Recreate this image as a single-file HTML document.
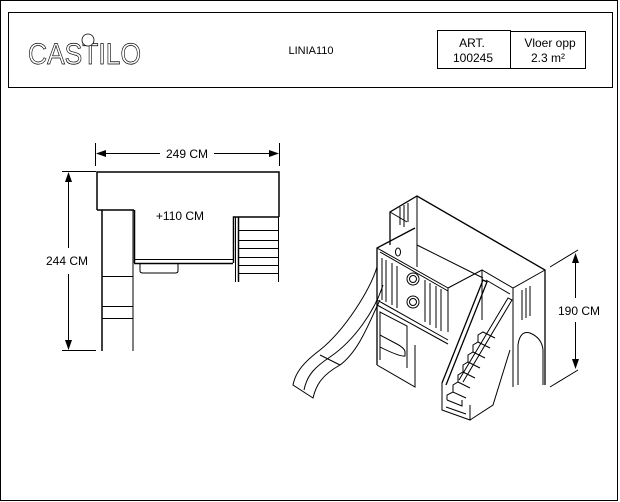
<!DOCTYPE html>
<html><head><style>
html,body{margin:0;padding:0;background:#fff;}
svg{display:block;}
text{font-family:"Liberation Sans",Arial,sans-serif;fill:#000;}
</style></head><body>
<svg width="620" height="502" viewBox="0 0 620 502" xmlns="http://www.w3.org/2000/svg">
<rect x="0.5" y="0.5" width="617" height="500" fill="#fff" stroke="#000" stroke-width="1"/>
<rect x="8.5" y="12.5" width="604" height="75" fill="none" stroke="#000"/>
<rect x="437.5" y="30.5" width="73" height="38" fill="none" stroke="#000"/>
<rect x="510.5" y="31.5" width="75" height="37" fill="none" stroke="#000"/>
<text x="472" y="47" font-size="12" text-anchor="middle">ART.</text>
<text x="473" y="62" font-size="12" text-anchor="middle">100245</text>
<text x="550" y="47" font-size="12" text-anchor="middle">Vloer opp</text>
<text x="548" y="62" font-size="12" text-anchor="middle">2.3 m²</text>
<text x="311" y="54" font-size="11" text-anchor="middle">LINIA110</text>
<text x="28" y="64" font-size="30" stroke="#000" stroke-width="0.7" textLength="113" lengthAdjust="spacingAndGlyphs" style="fill:#fff">CASTILO</text>
<circle cx="88" cy="40" r="6" fill="#fff" stroke="#000" stroke-width="0.8"/>
<g fill="none" stroke="#000" stroke-width="1">
<line x1="95.5" y1="143" x2="95.5" y2="166"/><line x1="279.5" y1="143" x2="279.5" y2="166"/>
<line x1="97" y1="153.5" x2="160" y2="153.5"/><line x1="214" y1="153.5" x2="277" y2="153.5"/>
<line x1="62" y1="171.5" x2="96" y2="171.5"/><line x1="62" y1="350.5" x2="96" y2="350.5"/>
<line x1="68.5" y1="173" x2="68.5" y2="248"/><line x1="68.5" y1="274" x2="68.5" y2="349"/>
</g>
<g fill="#000">
<polygon points="96,153.5 106,150 106,157"/><polygon points="279,153.5 269,150 269,157"/>
<polygon points="68.5,172 65,182 72,182"/><polygon points="68.5,350 65,340 72,340"/>
</g>
<text x="187" y="158" font-size="12" text-anchor="middle">249 CM</text>
<text x="67" y="265" font-size="12" text-anchor="middle">244 CM</text>
<text x="180" y="220" font-size="12" text-anchor="middle">+110 CM</text>
<g fill="none" stroke="#000">
<polyline points="97,210 97,172 279,172 279,217" stroke-width="1.5"/>
<line x1="97" y1="210" x2="134" y2="210" stroke-width="1.5"/>
<line x1="102" y1="210" x2="102" y2="351" stroke-width="1.5"/>
<line x1="133" y1="210" x2="133" y2="351" stroke-width="1"/>
<line x1="134.5" y1="210" x2="134.5" y2="263" stroke-width="1.5"/>
<line x1="134" y1="259.5" x2="233" y2="259.5"/><line x1="134" y1="263.5" x2="233" y2="263.5" stroke-width="1.5"/>
<polyline points="233.5,263 233.5,217 279,217" stroke-width="1.5"/>
<line x1="238.5" y1="217" x2="238.5" y2="282" stroke-width="1.5"/>
<line x1="278.5" y1="217" x2="278.5" y2="282"/>
<line x1="235.5" y1="217" x2="235.5" y2="282"/>
<line x1="238" y1="230.5" x2="278" y2="230.5"/><line x1="238" y1="240.5" x2="278" y2="240.5"/>
<line x1="238" y1="248.5" x2="278" y2="248.5"/><line x1="238" y1="257.5" x2="278" y2="257.5"/>
<line x1="238" y1="265.5" x2="278" y2="265.5"/><line x1="238" y1="273.5" x2="278" y2="273.5"/>
<line x1="102" y1="276.5" x2="133" y2="276.5"/><line x1="102" y1="306.5" x2="133" y2="306.5"/><line x1="102" y1="318.5" x2="133" y2="318.5"/>
<path d="M140,264 V271 Q140,273 143,273 H175 Q178,273 178,271 V264"/>
</g>
<g fill="none" stroke="#000" stroke-width="1">
<polyline points="390,245 390,212 417,196 545,270 545,385" stroke-width="1.3"/>
<line x1="417" y1="196" x2="417" y2="267"/>
<line x1="390" y1="212" x2="407" y2="222"/>
<line x1="400" y1="207" x2="400" y2="225"/><line x1="404" y1="205" x2="404" y2="227"/><line x1="408" y1="203" x2="408" y2="222"/>
<line x1="417" y1="245" x2="483" y2="278"/>
<polyline points="377,365 377,248 415,228" stroke-width="1.3"/>
<polyline points="377,248 448,288 448,332"/>
<polyline points="380,252 448,291"/>
<polyline points="377,300 448,340"/>
<polyline points="377,305 448,344"/>
<polyline points="377,365 415,387 415,345 Q418,330 430,333 Q442,338 445,352 L445,370"/>
<line x1="382" y1="258" x2="382" y2="300"/><line x1="386" y1="260" x2="386" y2="302"/>
<line x1="392" y1="263" x2="392" y2="305"/><line x1="397" y1="266" x2="397" y2="308"/>
<line x1="425" y1="280" x2="425" y2="322"/><line x1="430" y1="283" x2="430" y2="325"/>
<line x1="436" y1="286" x2="436" y2="328"/><line x1="441" y1="289" x2="441" y2="331"/>
<circle cx="413" cy="279" r="6"/><circle cx="413" cy="279" r="3.5"/>
<circle cx="413" cy="302" r="6"/><circle cx="413" cy="302" r="3.5"/>
<ellipse cx="398" cy="252" rx="2.5" ry="4"/>
<path d="M380,360 V312 L407,326 V368"/>
<path d="M380,335 L395,343 Q405,348 405,352 L405,356 Q400,357 380,347"/>
<polyline points="448,288 482,270 513,288 545,270"/>
<line x1="482" y1="270" x2="482" y2="320"/>
<line x1="513" y1="288" x2="513" y2="387"/>
<path d="M518,385 V345 Q520,330 530,333 Q542,338 543,350 V385"/>
<line x1="522" y1="290" x2="522" y2="320"/><line x1="526" y1="288" x2="526" y2="318"/><line x1="530" y1="286" x2="530" y2="316"/>
<line x1="486" y1="280" x2="510" y2="294"/>
<polyline points="442,383 483,280 487,282 446,385" stroke-width="1.3"/>
<polyline points="442,383 442,410 470,420 470,405"/>
<polyline points="470,420 493,405 510,350"/>
<polyline points="463,382 512,300 508,298 459,380"/>
<!-- steps -->
<polyline points="447,400 462,406 462,400"/><polyline points="447,400 447,395 453,392 466,398"/>
<polyline points="453,392 453,385 458,382 470,388"/><polyline points="458,382 458,375 463,372 475,378"/>
<polyline points="463,372 463,365 468,362 480,368"/><polyline points="468,362 468,355 473,352 485,358"/>
<polyline points="473,352 473,345 478,342 490,348"/><polyline points="478,342 478,335 483,332 495,338"/>
<line x1="446" y1="407" x2="466" y2="414"/>
</g>
<g fill="none" stroke="#000" stroke-width="1">
<path d="M377,267 C370,290 345,330 320,350 C300,365 295,375 293,385 L313,398 C316,385 322,375 340,365 C360,350 370,320 380,300"/>
<path d="M383,285 C375,310 355,340 330,357 C315,367 307,375 304,390"/>
<line x1="320" y1="355" x2="340" y2="365"/>
</g>
<g fill="none" stroke="#000">
<line x1="550" y1="267" x2="578" y2="250"/>
<line x1="550" y1="387" x2="578" y2="370"/>
<line x1="575.5" y1="255" x2="575.5" y2="298"/><line x1="575.5" y1="322" x2="575.5" y2="367"/>
</g>
<g fill="#000"><polygon points="575.5,253 572,263 579,263"/><polygon points="575.5,369 572,359 579,359"/></g>
<text x="558" y="315" font-size="12">190 CM</text>
</svg>
</body></html>
